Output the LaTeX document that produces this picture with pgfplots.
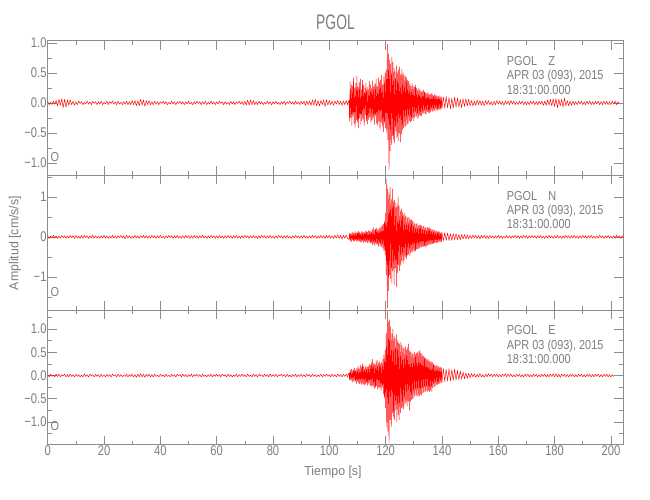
\documentclass[border=0pt]{standalone}
\usepackage{fontspec}
\setmainfont{Liberation Sans}[FakeStretch=0.8]
\newfontfamily\titlefont{Liberation Sans}[FakeStretch=0.66]
\newfontfamily\labfont{Liberation Sans}[FakeStretch=0.95]
\newfontfamily\annfont{Liberation Sans}[FakeStretch=0.84]
\usepackage{pgfplots}
\pgfplotsset{compat=1.18}
\definecolor{axgray}{RGB}{140,140,140}
\definecolor{txtgray}{RGB}{125,125,125}
\pgfplotsset{
 seis/.style={
  scale only axis, width=575.6pt, height=134.6pt,
  anchor=south west,
  xmin=0, xmax=204.4,
  xtick={0,20,...,200}, minor xtick={10,30,...,190},
  axis line style={draw=axgray, line width=0.6pt},
  every tick/.style={draw=axgray, line width=0.6pt},
  major tick length=9pt, minor tick length=4pt,
  tick align=inside, tick pos=both,
  ticklabel style={font=\fontsize{14}{14}\selectfont, text=txtgray, inner sep=1pt},
  /pgf/number format/assume math mode=true,
 },
 trace/.style={draw=red, line width=0.45pt, mark=none, line join=round},
}
\begin{document}
\begin{tikzpicture}
\path[use as bounding box] (0pt,0pt) rectangle (650pt,500pt);
% ---------------- Z ----------------
\begin{axis}[seis, at={(47.7pt,324.6pt)}, ymin=-1.208, ymax=1.035,
  ytick={-1,-0.5,0,0.5,1}, yticklabels={−1.0,−0.5,0.0,0.5,1.0},
  minor ytick={-0.75,-0.25,0.25,0.75}, xticklabels={}]
\addplot[trace] coordinates {
(0,0.02)(0.5,-0.03)(1,0.01)(1.5,-0.03)(2,0.03)(2.5,-0.02)(3,0.04)(3.5,-0.05)(4,0.06)(4.5,-0.04)(5,0.07)(5.5,-0.08)(6,0.06)(6.5,-0.07)(7,0.05)(7.5,-0.04)(8,0.05)(8.5,-0.03)(9,0.03)(9.5,-0.04)
(10,0.02)(10.5,-0.03)(11,0.03)(11.5,-0.01)(12,0.02)(12.5,-0.03)(13,0.01)(13.5,-0.02)(14,0.03)(14.5,-0.02)(15,0.02)(15.5,-0.03)(16,0.03)(16.5,-0.01)(17,0.02)(17.5,-0.03)(18,0.02)(18.5,-0.02)(19,0.03)(19.5,-0.03)
(20,0.01)(20.5,-0.02)(21,0.03)(21.5,-0.03)(22,0.02)(22.5,-0.01)(23,0.03)(23.5,-0.02)(24,0.02)(24.5,-0.03)(25,0.03)(25.5,-0.02)(26,0.01)(26.5,-0.03)(27,0.02)(27.5,-0.02)(28,0.03)(28.5,-0.03)(29,0.02)(29.5,-0.03)
(30,0.04)(30.5,-0.03)(31,0.04)(31.5,-0.05)(32,0.04)(32.5,-0.05)(33,0.06)(33.5,-0.04)(34,0.05)(34.5,-0.06)(35,0.04)(35.5,-0.03)(36,0.04)(36.5,-0.03)(37,0.02)(37.5,-0.03)(38,0.03)(38.5,-0.02)(39,0.02)(39.5,-0.03)
(40,0.02)(40.5,-0.01)(41,0.03)(41.5,-0.02)(42,0.02)(42.5,-0.03)(43,0.01)(43.5,-0.02)(44,0.03)(44.5,-0.02)(45,0.02)(45.5,-0.03)(46,0.02)(46.5,-0.01)(47,0.03)(47.5,-0.02)(48,0.02)(48.5,-0.03)(49,0.02)(49.5,-0.02)
(50,0.03)(50.5,-0.02)(51,0.01)(51.5,-0.03)(52,0.02)(52.5,-0.02)(53,0.03)(53.5,-0.01)(54,0.02)(54.5,-0.03)(55,0.02)(55.5,-0.02)(56,0.03)(56.5,-0.03)(57,0.01)(57.5,-0.02)(58,0.03)(58.5,-0.02)(59,0.02)(59.5,-0.03)
(60,0.02)(60.5,-0.02)(61,0.03)(61.5,-0.01)(62,0.02)(62.5,-0.03)(63,0.02)(63.5,-0.02)(64,0.01)(64.5,-0.03)(65,0.03)(65.5,-0.02)(66,0.02)(66.5,-0.03)(67,0.02)(67.5,-0.01)(68,0.03)(68.5,-0.02)(69,0.02)(69.5,-0.03)
(70,0.03)(70.5,-0.04)(71,0.05)(71.5,-0.04)(72,0.05)(72.5,-0.03)(73,0.04)(73.5,-0.03)(74,0.02)(74.5,-0.03)(75,0.03)(75.5,-0.02)(76,0.02)(76.5,-0.03)(77,0.01)(77.5,-0.02)(78,0.03)(78.5,-0.02)(79,0.02)(79.5,-0.03)
(80,0.02)(80.5,-0.02)(81,0.03)(81.5,-0.02)(82,0.01)(82.5,-0.03)(83,0.02)(83.5,-0.02)(84,0.03)(84.5,-0.03)(85,0.02)(85.5,-0.01)(86,0.03)(86.5,-0.02)(87,0.02)(87.5,-0.03)(88,0.03)(88.5,-0.02)(89,0.02)(89.5,-0.03)
(90,0.03)(90.5,-0.02)(91,0.03)(91.5,-0.04)(92,0.03)(92.5,-0.03)(93,0.03)(93.5,-0.04)(94,0.05)(94.5,-0.04)(95,0.06)(95.5,-0.05)(96,0.04)(96.5,-0.05)(97,0.04)(97.5,-0.03)(98,0.05)(98.5,-0.06)(99,0.05)(99.5,-0.04)
(100,0.04)(100.5,-0.03)(101,0.03)(101.5,-0.04)(102,0.03)(102.5,-0.02)(103,0.04)(103.5,-0.03)(104,0.03)(104.5,-0.04)(105,0.03)(105.5,-0.03)(106,0.04)(106.5,-0.03)
(107.0,0.05)(107.2,-0.30)(107.4,0.35)(107.6,-0.25)(107.8,0.30)(108.0,-0.38)(108.2,0.28)(108.4,-0.22)(108.6,0.42)(108.8,-0.35)
(109.0,0.25)(109.2,-0.40)(109.4,0.33)(109.6,-0.28)(109.8,0.45)(110.0,-0.32)(110.2,0.26)(110.4,-0.42)(110.6,0.35)(110.8,-0.25)
(111.0,0.40)(111.2,-0.36)(111.4,0.22)(111.6,-0.30)(111.8,0.38)(112.0,-0.27)(112.2,0.30)(112.4,-0.38)(112.6,0.25)(112.8,-0.20)
(113.0,0.33)(113.2,-0.30)(113.4,0.26)(113.6,-0.35)(113.8,0.22)(114.0,-0.28)(114.2,0.36)(114.4,-0.24)(114.6,0.30)(114.8,-0.33)
(115.0,0.24)(115.2,-0.29)(115.4,0.37)(115.6,-0.26)(115.8,0.28)(116.0,-0.36)(116.2,0.32)(116.4,-0.22)(116.6,0.40)(116.8,-0.34)
(117.0,0.27)(117.2,-0.38)(117.4,0.42)(117.6,-0.30)(117.8,0.35)(118.0,-0.45)(118.2,0.38)(118.4,-0.32)(118.6,0.46)(118.8,-0.40)
(119.0,0.30)(119.2,-0.48)(119.4,0.44)(119.6,-0.35)(119.8,0.50)(120.0,-0.42)(120.2,0.55)(120.4,-0.50)(120.6,0.98)(120.8,-0.62)
(121.0,0.82)(121.2,-1.12)(121.4,0.72)(121.6,-0.80)(121.8,0.65)(122.0,-0.70)(122.2,0.76)(122.4,-0.55)(122.6,0.68)(122.8,-0.62)
(123.0,0.58)(123.2,-0.66)(123.4,0.52)(123.6,-0.48)(123.8,0.62)(124.0,-0.58)(124.2,0.50)(124.4,-0.64)(124.6,0.55)(124.8,-0.50)
(125.0,0.60)(125.2,-0.65)(125.4,0.48)(125.6,-0.52)(125.8,0.56)(126.0,-0.45)(126.2,0.50)(126.4,-0.42)(126.6,0.46)(126.8,-0.40)
(127.0,0.44)(127.2,-0.38)(127.4,0.42)(127.6,-0.36)(127.8,0.38)(128.0,-0.34)(128.2,0.36)(128.4,-0.30)(128.6,0.33)(128.8,-0.32)
(129.0,0.28)(129.2,-0.30)(129.4,0.32)(129.6,-0.26)(129.8,0.28)(130.0,-0.30)(130.2,0.26)(130.4,-0.24)(130.6,0.30)(130.8,-0.22)
(131.0,0.25)(131.2,-0.26)(131.4,0.22)(131.6,-0.24)(131.8,0.25)(132.0,-0.20)(132.2,0.22)(132.4,-0.21)(132.6,0.19)(132.8,-0.22)
(133.0,0.20)(133.2,-0.18)(133.4,0.21)(133.6,-0.17)(133.8,0.19)(134.0,-0.18)(134.2,0.17)(134.4,-0.19)(134.6,0.16)(134.8,-0.15)
(135.0,0.18)(135.2,-0.16)(135.4,0.15)(135.6,-0.17)(135.8,0.14)(136.0,-0.15)(136.2,0.16)(136.4,-0.13)(136.6,0.14)(136.8,-0.15)
(137.0,0.12)(137.2,-0.13)(137.4,0.14)(137.6,-0.12)(137.8,0.13)(138.0,-0.11)(138.2,0.12)(138.4,-0.13)(138.6,0.11)(138.8,-0.10)
(139.0,0.12)(139.2,-0.11)(139.4,0.10)(139.6,-0.12)(139.8,0.10)(140.0,-0.09)
(140.5,0.10)(141.0,-0.09)(141.5,0.11)(142.0,-0.08)(142.5,0.09)(143.0,-0.10)(143.5,0.08)(144.0,-0.09)(144.5,0.10)(145.0,-0.07)
(145.5,0.08)(146.0,-0.07)(146.5,0.06)(147.0,-0.08)(147.5,0.07)(148.0,-0.06)(148.5,0.07)(149.0,-0.05)(149.5,0.06)(150.0,-0.05)
(150.5,0.04)(151,-0.05)(151.5,0.03)(152,-0.04)(152.5,0.05)(153,-0.03)(153.5,0.04)(154,-0.04)(154.5,0.03)(155,-0.05)(155.5,0.04)(156,-0.03)(156.5,0.04)(157,-0.03)(157.5,0.02)(158,-0.04)(158.5,0.03)(159,-0.03)(159.5,0.04)(160,-0.02)
(160.5,0.03)(161,-0.03)(161.5,0.02)(162,-0.04)(162.5,0.03)(163,-0.02)(163.5,0.03)(164,-0.03)(164.5,0.04)(165,-0.02)(165.5,0.03)(166,-0.03)(166.5,0.02)(167,-0.03)(167.5,0.03)(168,-0.02)(168.5,0.03)(169,-0.03)(169.5,0.02)(170,-0.03)
(170.5,0.02)(171,-0.03)(171.5,0.03)(172,-0.02)(172.5,0.03)(173,-0.03)(173.5,0.02)(174,-0.03)(174.5,0.03)(175,-0.02)(175.5,0.03)(176,-0.04)(176.5,0.03)(177,-0.04)(177.5,0.05)(178,-0.04)(178.5,0.06)(179,-0.05)(179.5,0.07)(180,-0.06)
(180.5,0.07)(181,-0.08)(181.5,0.06)(182,-0.05)(182.5,0.06)(183,-0.07)(183.5,0.08)(184,-0.05)(184.5,0.04)(185,-0.05)(185.5,0.03)(186,-0.04)(186.5,0.03)(187,-0.03)(187.5,0.02)(188,-0.03)(188.5,0.03)(189,-0.02)(189.5,0.03)(190,-0.03)
(190.5,0.02)(191,-0.03)(191.5,0.03)(192,-0.02)(192.5,0.03)(193,-0.03)(193.5,0.02)(194,-0.03)(194.5,0.03)(195,-0.02)(195.5,0.03)(196,-0.03)(196.5,0.02)(197,-0.03)(197.5,0.03)(198,-0.02)(198.5,0.03)(199,-0.03)(199.5,0.02)(200,-0.03)
(200.5,0.03)(201,-0.02)(201.5,0.03)(202,-0.03)(202.5,0.02)(203,-0.02)
};
\end{axis}
% ---------------- N ----------------
\begin{axis}[seis, at={(47.7pt,190.0pt)}, ymin=-1.83, ymax=1.54,
  ytick={-1,0,1}, yticklabels={−1,0,1},
  minor ytick={-1.5,-0.5,0.5,1.5}, xticklabels={}]
\addplot[trace] coordinates {
(0,0.03)(0.5,-0.04)(1,0.02)(1.5,-0.03)(2,0.04)(2.5,-0.03)(3,0.03)(3.5,-0.04)(4,0.02)(4.5,-0.03)(5,0.04)(5.5,-0.02)(6,0.03)(6.5,-0.04)(7,0.03)(7.5,-0.03)(8,0.04)(8.5,-0.02)(9,0.03)(9.5,-0.04)
(10,0.04)(10.5,-0.03)(11,0.02)(11.5,-0.04)(12,0.03)(12.5,-0.03)(13,0.04)(13.5,-0.02)(14,0.03)(14.5,-0.04)(15,0.03)(15.5,-0.03)(16,0.05)(16.5,-0.04)(17,0.03)(17.5,-0.03)(18,0.02)(18.5,-0.04)(19,0.03)(19.5,-0.03)
(20,0.04)(20.5,-0.03)(21,0.03)(21.5,-0.04)(22,0.02)(22.5,-0.03)(23,0.04)(23.5,-0.03)(24,0.03)(24.5,-0.04)(25,0.03)(25.5,-0.02)(26,0.04)(26.5,-0.03)(27,0.03)(27.5,-0.05)(28,0.04)(28.5,-0.03)(29,0.03)(29.5,-0.04)
(30,0.02)(30.5,-0.03)(31,0.04)(31.5,-0.03)(32,0.03)(32.5,-0.04)(33,0.03)(33.5,-0.02)(34,0.04)(34.5,-0.03)(35,0.03)(35.5,-0.04)(36,0.03)(36.5,-0.03)(37,0.04)(37.5,-0.02)(38,0.03)(38.5,-0.04)(39,0.03)(39.5,-0.03)
(40,0.04)(40.5,-0.03)(41,0.02)(41.5,-0.04)(42,0.03)(42.5,-0.03)(43,0.04)(43.5,-0.02)(44,0.03)(44.5,-0.04)(45,0.03)(45.5,-0.03)(46,0.04)(46.5,-0.03)(47,0.02)(47.5,-0.04)(48,0.03)(48.5,-0.03)(49,0.04)(49.5,-0.02)
(50,0.03)(50.5,-0.04)(51,0.03)(51.5,-0.03)(52,0.04)(52.5,-0.02)(53,0.03)(53.5,-0.04)(54,0.03)(54.5,-0.03)(55,0.04)(55.5,-0.03)(56,0.02)(56.5,-0.04)(57,0.03)(57.5,-0.03)(58,0.04)(58.5,-0.02)(59,0.03)(59.5,-0.04)
(60,0.03)(60.5,-0.03)(61,0.04)(61.5,-0.03)(62,0.02)(62.5,-0.04)(63,0.03)(63.5,-0.03)(64,0.04)(64.5,-0.02)(65,0.03)(65.5,-0.04)(66,0.03)(66.5,-0.03)(67,0.04)(67.5,-0.03)(68,0.02)(68.5,-0.04)(69,0.03)(69.5,-0.03)
(70,0.04)(70.5,-0.02)(71,0.03)(71.5,-0.04)(72,0.03)(72.5,-0.03)(73,0.04)(73.5,-0.03)(74,0.02)(74.5,-0.04)(75,0.03)(75.5,-0.03)(76,0.04)(76.5,-0.02)(77,0.03)(77.5,-0.04)(78,0.03)(78.5,-0.03)(79,0.04)(79.5,-0.03)
(80,0.02)(80.5,-0.04)(81,0.03)(81.5,-0.03)(82,0.04)(82.5,-0.02)(83,0.03)(83.5,-0.04)(84,0.03)(84.5,-0.03)(85,0.04)(85.5,-0.03)(86,0.02)(86.5,-0.04)(87,0.03)(87.5,-0.03)(88,0.04)(88.5,-0.02)(89,0.03)(89.5,-0.04)
(90,0.03)(90.5,-0.03)(91,0.04)(91.5,-0.03)(92,0.02)(92.5,-0.04)(93,0.03)(93.5,-0.03)(94,0.04)(94.5,-0.02)(95,0.03)(95.5,-0.04)(96,0.03)(96.5,-0.03)(97,0.04)(97.5,-0.03)(98,0.03)(98.5,-0.04)(99,0.04)(99.5,-0.03)
(100,0.04)(100.5,-0.04)(101,0.03)(101.5,-0.04)(102,0.04)(102.5,-0.03)(103,0.05)(103.5,-0.04)(104,0.04)(104.5,-0.05)(105,0.04)(105.5,-0.04)(106,0.05)(106.5,-0.05)
(107.0,-0.06)(107.2,0.09)(107.4,-0.10)(107.6,0.08)(107.8,-0.12)(108.0,0.10)(108.2,-0.08)(108.4,0.12)(108.6,-0.10)(108.8,0.09)
(109.0,-0.11)(109.2,0.13)(109.4,-0.09)(109.6,0.10)(109.8,-0.12)(110.0,0.11)(110.2,-0.10)(110.4,0.14)(110.6,-0.11)(110.8,0.12)
(111.0,-0.13)(111.2,0.10)(111.4,-0.12)(111.6,0.14)(111.8,-0.10)(112.0,0.12)(112.2,-0.14)(112.4,0.11)(112.6,-0.12)(112.8,0.15)
(113.0,-0.12)(113.2,0.13)(113.4,-0.15)(113.6,0.12)(113.8,-0.14)(114.0,0.16)(114.2,-0.12)(114.4,0.15)(114.6,-0.16)(114.8,0.13)
(115.0,-0.15)(115.2,0.18)(115.4,-0.20)(115.6,0.24)(115.8,-0.18)(116.0,0.16)(116.2,-0.22)(116.4,0.20)(116.6,-0.17)(116.8,0.22)
(117.0,-0.20)(117.2,0.18)(117.4,-0.24)(117.6,0.21)(117.8,-0.18)(118.0,0.23)(118.2,-0.22)(118.4,0.26)(118.6,-0.25)(118.8,0.30)
(119.0,-0.28)(119.2,0.32)(119.4,-0.35)(119.6,0.40)(119.8,-0.45)(120.0,0.60)(120.2,-0.95)(120.4,1.45)(120.6,-1.78)(120.8,1.20)
(121.0,-1.35)(121.2,1.10)(121.4,-0.95)(121.6,1.25)(121.8,-1.05)(122.0,0.95)(122.2,-1.15)(122.4,1.20)(122.6,-0.85)(122.8,0.90)
(123.0,-1.20)(123.2,0.92)(123.4,-0.78)(123.6,0.85)(123.8,-1.25)(124.0,0.75)(124.2,-0.90)(124.4,1.00)(124.6,-0.70)(124.8,0.78)
(125.0,-0.85)(125.2,0.65)(125.4,-0.72)(125.6,0.70)(125.8,-0.60)(126.0,0.62)(126.2,-0.66)(126.4,0.55)(126.6,-0.58)(126.8,0.60)
(127.0,-0.50)(127.2,0.52)(127.4,-0.55)(127.6,0.48)(127.8,-0.46)(128.0,0.50)(128.2,-0.44)(128.4,0.46)(128.6,-0.48)(128.8,0.42)
(129.0,-0.40)(129.2,0.43)(129.4,-0.38)(129.6,0.40)(129.8,-0.36)(130.0,0.38)(130.2,-0.35)(130.4,0.33)(130.6,-0.36)(130.8,0.32)
(131.0,-0.30)(131.2,0.34)(131.4,-0.31)(131.6,0.28)(131.8,-0.30)(132.0,0.29)(132.2,-0.27)(132.4,0.30)(132.6,-0.26)(132.8,0.27)
(133.0,-0.25)(133.2,0.26)(133.4,-0.24)(133.6,0.27)(133.8,-0.23)(134.0,0.24)(134.2,-0.25)(134.4,0.22)(134.6,-0.23)(134.8,0.24)
(135.0,-0.21)(135.2,0.22)(135.4,-0.20)(135.6,0.23)(135.8,-0.19)(136.0,0.20)(136.2,-0.18)(136.4,0.19)(136.6,-0.17)(136.8,0.18)
(137.0,-0.16)(137.2,0.17)(137.4,-0.15)(137.6,0.16)(137.8,-0.15)(138.0,0.14)(138.2,-0.15)(138.4,0.13)(138.6,-0.14)(138.8,0.13)
(139.0,-0.12)(139.2,0.13)(139.4,-0.12)(139.6,0.11)(139.8,-0.12)(140.0,0.11)
(140.5,-0.10)(141.0,0.11)(141.5,-0.09)(142.0,0.10)(142.5,-0.09)(143.0,0.08)(143.5,-0.09)(144.0,0.08)(144.5,-0.07)(145.0,0.08)
(145.5,-0.07)(146.0,0.06)(146.5,-0.07)(147.0,0.06)(147.5,-0.05)(148.0,0.06)(148.5,-0.05)(149.0,0.05)(149.5,-0.05)(150.0,0.04)
(150.5,-0.04)(151,0.05)(151.5,-0.03)(152,0.04)(152.5,-0.04)(153,0.03)(153.5,-0.05)(154,0.04)(154.5,-0.03)(155,0.04)(155.5,-0.04)(156,0.03)(156.5,-0.04)(157,0.04)(157.5,-0.03)(158,0.03)(158.5,-0.04)(159,0.03)(159.5,-0.03)(160,0.04)
(160.5,-0.03)(161,0.03)(161.5,-0.04)(162,0.02)(162.5,-0.03)(163,0.04)(163.5,-0.03)(164,0.03)(164.5,-0.04)(165,0.03)(165.5,-0.02)(166,0.04)(166.5,-0.03)(167,0.03)(167.5,-0.04)(168,0.03)(168.5,-0.03)(169,0.04)(169.5,-0.02)(170,0.03)
(170.5,-0.04)(171,0.03)(171.5,-0.03)(172,0.04)(172.5,-0.02)(173,0.03)(173.5,-0.04)(174,0.03)(174.5,-0.03)(175,0.04)(175.5,-0.03)(176,0.02)(176.5,-0.04)(177,0.03)(177.5,-0.03)(178,0.04)(178.5,-0.02)(179,0.03)(179.5,-0.04)(180,0.03)
(180.5,-0.03)(181,0.04)(181.5,-0.03)(182,0.02)(182.5,-0.04)(183,0.03)(183.5,-0.03)(184,0.04)(184.5,-0.02)(185,0.03)(185.5,-0.04)(186,0.03)(186.5,-0.03)(187,0.04)(187.5,-0.03)(188,0.02)(188.5,-0.04)(189,0.03)(189.5,-0.03)(190,0.04)
(190.5,-0.02)(191,0.03)(191.5,-0.04)(192,0.03)(192.5,-0.03)(193,0.04)(193.5,-0.03)(194,0.02)(194.5,-0.04)(195,0.03)(195.5,-0.03)(196,0.04)(196.5,-0.02)(197,0.03)(197.5,-0.04)(198,0.03)(198.5,-0.03)(199,0.04)(199.5,-0.03)(200,0.02)
(200.5,-0.04)(201,0.03)(201.5,-0.03)(202,0.04)(202.5,-0.02)(203,0.03)(203.5,-0.04)(204,0.03)(204.4,-0.02)
};
\end{axis}
% ---------------- E ----------------
\begin{axis}[seis, at={(47.7pt,55.4pt)}, ymin=-1.486, ymax=1.41,
  ytick={-1,-0.5,0,0.5,1}, yticklabels={−1.0,−0.5,0.0,0.5,1.0},
  minor ytick={-1.25,-0.75,-0.25,0.25,0.75,1.25}]
\addplot[trace] coordinates {
(0,0.02)(0.5,-0.03)(1,0.03)(1.5,-0.02)(2,0.01)(2.5,-0.03)(3,0.03)(3.5,-0.02)(4,0.03)(4.5,-0.03)(5,0.02)(5.5,-0.01)(6,0.03)(6.5,-0.03)(7,0.02)(7.5,-0.03)(8,0.03)(8.5,-0.02)(9,0.02)(9.5,-0.03)
(10,0.03)(10.5,-0.02)(11,0.02)(11.5,-0.03)(12,0.01)(12.5,-0.03)(13,0.03)(13.5,-0.02)(14,0.02)(14.5,-0.03)(15,0.03)(15.5,-0.01)(16,0.02)(16.5,-0.03)(17,0.03)(17.5,-0.02)(18,0.02)(18.5,-0.03)(19,0.03)(19.5,-0.02)
(20,0.01)(20.5,-0.03)(21,0.03)(21.5,-0.02)(22,0.02)(22.5,-0.03)(23,0.03)(23.5,-0.01)(24,0.02)(24.5,-0.03)(25,0.03)(25.5,-0.02)(26,0.02)(26.5,-0.03)(27,0.01)(27.5,-0.02)(28,0.03)(28.5,-0.03)(29,0.02)(29.5,-0.02)
(30,0.03)(30.5,-0.03)(31,0.02)(31.5,-0.04)(32,0.03)(32.5,-0.03)(33,0.04)(33.5,-0.03)(34,0.03)(34.5,-0.04)(35,0.03)(35.5,-0.02)(36,0.03)(36.5,-0.03)(37,0.02)(37.5,-0.03)(38,0.03)(38.5,-0.02)(39,0.01)(39.5,-0.03)
(40,0.03)(40.5,-0.02)(41,0.02)(41.5,-0.03)(42,0.03)(42.5,-0.02)(43,0.01)(43.5,-0.03)(44,0.03)(44.5,-0.02)(45,0.02)(45.5,-0.03)(46,0.03)(46.5,-0.01)(47,0.02)(47.5,-0.03)(48,0.03)(48.5,-0.02)(49,0.02)(49.5,-0.03)
(50,0.02)(50.5,-0.02)(51,0.03)(51.5,-0.03)(52,0.02)(52.5,-0.01)(53,0.03)(53.5,-0.02)(54,0.02)(54.5,-0.03)(55,0.03)(55.5,-0.02)(56,0.01)(56.5,-0.03)(57,0.02)(57.5,-0.02)(58,0.03)(58.5,-0.03)(59,0.02)(59.5,-0.02)
(60,0.03)(60.5,-0.02)(61,0.02)(61.5,-0.03)(62,0.03)(62.5,-0.01)(63,0.02)(63.5,-0.03)(64,0.03)(64.5,-0.02)(65,0.02)(65.5,-0.03)(66,0.01)(66.5,-0.02)(67,0.03)(67.5,-0.03)(68,0.02)(68.5,-0.02)(69,0.03)(69.5,-0.02)
(70,0.02)(70.5,-0.03)(71,0.03)(71.5,-0.02)(72,0.01)(72.5,-0.03)(73,0.03)(73.5,-0.02)(74,0.02)(74.5,-0.03)(75,0.03)(75.5,-0.01)(76,0.02)(76.5,-0.03)(77,0.03)(77.5,-0.02)(78,0.02)(78.5,-0.03)(79,0.03)(79.5,-0.02)
(80,0.02)(80.5,-0.02)(81,0.03)(81.5,-0.03)(82,0.02)(82.5,-0.01)(83,0.03)(83.5,-0.02)(84,0.02)(84.5,-0.03)(85,0.03)(85.5,-0.02)(86,0.01)(86.5,-0.03)(87,0.02)(87.5,-0.02)(88,0.03)(88.5,-0.03)(89,0.02)(89.5,-0.02)
(90,0.03)(90.5,-0.02)(91,0.02)(91.5,-0.03)(92,0.03)(92.5,-0.01)(93,0.02)(93.5,-0.03)(94,0.03)(94.5,-0.02)(95,0.02)(95.5,-0.03)(96,0.01)(96.5,-0.02)(97,0.03)(97.5,-0.03)(98,0.02)(98.5,-0.02)(99,0.03)(99.5,-0.02)
(100,0.02)(100.5,-0.03)(101,0.03)(101.5,-0.02)(102,0.02)(102.5,-0.03)(103,0.03)(103.5,-0.02)(104,0.02)(104.5,-0.03)(105,0.03)(105.5,-0.02)(106,0.03)(106.5,-0.03)
(107.0,0.06)(107.2,-0.10)(107.4,0.12)(107.6,-0.09)(107.8,0.14)(108.0,-0.12)(108.2,0.10)(108.4,-0.15)(108.6,0.13)(108.8,-0.10)
(109.0,0.16)(109.2,-0.13)(109.4,0.12)(109.6,-0.17)(109.8,0.15)(110.0,-0.12)(110.2,0.20)(110.4,-0.16)(110.6,0.14)(110.8,-0.18)
(111.0,0.22)(111.2,-0.17)(111.4,0.18)(111.6,-0.20)(111.8,0.25)(112.0,-0.18)(112.2,0.20)(112.4,-0.22)(112.6,0.17)(112.8,-0.19)
(113.0,0.21)(113.2,-0.16)(113.4,0.18)(113.6,-0.21)(113.8,0.20)(114.0,-0.17)(114.2,0.24)(114.4,-0.20)(114.6,0.22)(114.8,-0.25)
(115.0,0.28)(115.2,-0.22)(115.4,0.35)(115.6,-0.24)(115.8,0.26)(116.0,-0.28)(116.2,0.24)(116.4,-0.26)(116.6,0.30)(116.8,-0.22)
(117.0,0.33)(117.2,-0.30)(117.4,0.27)(117.6,-0.25)(117.8,0.30)(118.0,-0.28)(118.2,0.25)(118.4,-0.32)(118.6,0.28)(118.8,-0.26)
(119.0,0.35)(119.2,-0.40)(119.4,0.45)(119.6,-0.50)(119.8,0.55)(120.0,-0.70)(120.2,0.90)(120.4,-1.10)(120.6,1.38)(120.8,-1.20)
(121.0,1.15)(121.2,-1.45)(121.4,1.20)(121.6,-0.95)(121.8,1.05)(122.0,-1.10)(122.2,0.90)(122.4,-0.80)(122.6,1.00)(122.8,-0.90)
(123.0,0.85)(123.2,-0.95)(123.4,0.80)(123.6,-0.75)(123.8,0.88)(124.0,-1.00)(124.2,0.75)(124.4,-0.85)(124.6,0.70)(124.8,-0.95)
(125.0,0.68)(125.2,-0.80)(125.4,0.72)(125.6,-0.70)(125.8,0.65)(126.0,-0.68)(126.2,0.60)(126.4,-0.72)(126.6,0.58)(126.8,-0.62)
(127.0,0.62)(127.2,-0.58)(127.4,0.55)(127.6,-0.66)(127.8,0.60)(128.0,-0.55)(128.2,0.68)(128.4,-0.75)(128.6,0.52)(128.8,-0.56)
(129.0,0.50)(129.2,-0.52)(129.4,0.48)(129.6,-0.50)(129.8,0.46)(130.0,-0.48)(130.2,0.50)(130.4,-0.44)(130.6,0.46)(130.8,-0.42)
(131.0,0.48)(131.2,-0.45)(131.4,0.50)(131.6,-0.43)(131.8,0.52)(132.0,-0.44)(132.2,0.55)(132.4,-0.40)(132.6,0.48)(132.8,-0.42)
(133.0,0.45)(133.2,-0.38)(133.4,0.42)(133.6,-0.36)(133.8,0.40)(134.0,-0.35)(134.2,0.38)(134.4,-0.33)(134.6,0.36)(134.8,-0.34)
(135.0,0.35)(135.2,-0.32)(135.4,0.34)(135.6,-0.35)(135.8,0.30)(136.0,-0.32)(136.2,0.30)(136.4,-0.35)(136.6,0.28)(136.8,-0.26)
(137.0,0.25)(137.2,-0.24)(137.4,0.22)(137.6,-0.23)(137.8,0.21)(138.0,-0.20)(138.2,0.22)(138.4,-0.19)(138.6,0.20)(138.8,-0.18)
(139.0,0.19)(139.2,-0.17)(139.4,0.18)(139.6,-0.16)(139.8,0.17)(140.0,-0.15)
(140.5,0.15)(141.0,-0.13)(141.5,0.14)(142.0,-0.12)(142.5,0.15)(143.0,-0.12)(143.5,0.13)(144.0,-0.11)(144.5,0.14)(145.0,-0.10)
(145.5,0.11)(146.0,-0.09)(146.5,0.10)(147.0,-0.08)(147.5,0.07)(148.0,-0.07)(148.5,0.06)(149.0,-0.06)(149.5,0.05)(150.0,-0.05)
(150.5,0.04)(151,-0.03)(151.5,0.04)(152,-0.04)(152.5,0.03)(153,-0.03)(153.5,0.04)(154,-0.03)(154.5,0.02)(155,-0.04)(155.5,0.03)(156,-0.03)(156.5,0.04)(157,-0.02)(157.5,0.03)(158,-0.03)(158.5,0.03)(159,-0.02)(159.5,0.03)(160,-0.03)
(160.5,0.02)(161,-0.03)(161.5,0.03)(162,-0.02)(162.5,0.04)(163,-0.03)(163.5,0.03)(164,-0.02)(164.5,0.03)(165,-0.03)(165.5,0.02)(166,-0.03)(166.5,0.03)(167,-0.02)(167.5,0.03)(168,-0.03)(168.5,0.02)(169,-0.03)(169.5,0.03)(170,-0.02)
(170.5,0.03)(171,-0.03)(171.5,0.02)(172,-0.03)(172.5,0.03)(173,-0.02)(173.5,0.03)(174,-0.03)(174.5,0.02)(175,-0.03)(175.5,0.03)(176,-0.02)(176.5,0.03)(177,-0.03)(177.5,0.02)(178,-0.03)(178.5,0.03)(179,-0.02)(179.5,0.04)(180,-0.03)
(180.5,0.04)(181,-0.03)(181.5,0.03)(182,-0.04)(182.5,0.03)(183,-0.02)(183.5,0.03)(184,-0.03)(184.5,0.02)(185,-0.03)(185.5,0.03)(186,-0.02)(186.5,0.03)(187,-0.03)(187.5,0.02)(188,-0.03)(188.5,0.03)(189,-0.02)(189.5,0.03)(190,-0.03)
(190.5,0.02)(191,-0.03)(191.5,0.03)(192,-0.02)(192.5,0.03)(193,-0.03)(193.5,0.02)(194,-0.03)(194.5,0.03)(195,-0.02)(195.5,0.03)(196,-0.03)(196.5,0.02)(197,-0.03)(197.5,0.03)(198,-0.02)(198.5,0.03)(199,-0.03)(199.5,0.02)(200,-0.03)
(200.5,0.02)(201,-0.02)
};
\end{axis}
% ---------------- texts ----------------
\node[text=txtgray, font=\titlefont\fontsize{21}{21}\selectfont] at (335.5pt,478pt) {PGOL};
\begin{scope}[every node/.style={text=txtgray, font=\annfont\fontsize{13}{13}\selectfont, anchor=base west, inner sep=0pt}]
\foreach \top/\c in {459.2/Z, 324.6/N, 190.0/E} {
  \node at (506.7pt,\top pt-25pt) {PGOL\hspace{11pt}\c};
  \node at (506.7pt,\top pt-39.2pt) {APR 03 (093), 2015};
  \node at (506.7pt,\top pt-53.4pt) {18:31:00.000};
}
\end{scope}
\foreach \bot in {324.6, 190.0, 55.4} {
  \node[text=txtgray, font=\annfont\fontsize{13}{13}\selectfont, inner sep=0pt] at (54.8pt,\bot pt+18.3pt) {O};
}
\node[text=txtgray, font=\labfont\fontsize{13}{13}\selectfont, rotate=90] at (15pt,257pt) {Amplitud [cm/s/s]};
\node[text=txtgray, font=\labfont\fontsize{13}{13}\selectfont] at (333pt,28pt) {Tiempo [s]};
\end{tikzpicture}
\end{document}
